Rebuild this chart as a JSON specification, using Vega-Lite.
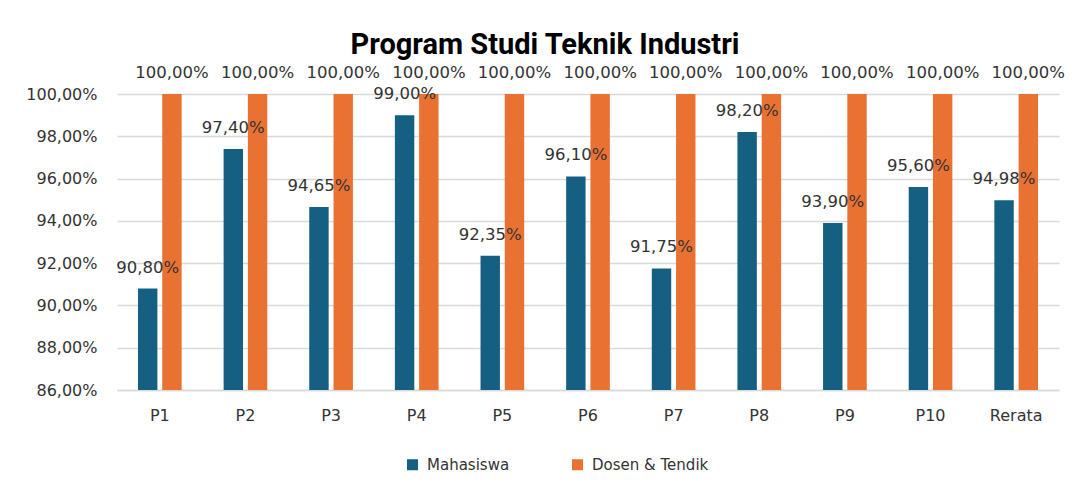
{
  "$schema": "https://vega.github.io/schema/vega-lite/v6.json",
  "width": 942,
  "height": 296,
  "autosize": {"type": "none"},
  "padding": {"left": 117, "top": 94, "right": 18, "bottom": 103},
  "background": "white",
  "config": {
    "locale": {"number": {"decimal": ",", "thousands": ".", "grouping": [3], "currency": ["", ""]}},
    "view": {"stroke": null},
    "font": "DejaVu Sans"
  },
  "title": {
    "text": "Program Studi Teknik Industri",
    "font": "Roboto",
    "fontSize": 29,
    "fontWeight": "bold",
    "color": "#000000",
    "anchor": "middle",
    "dx": -43,
    "offset": 5
  },
  "data": {
    "values": [
      {"kategori": "P1", "seri": "Mahasiswa", "nilai": 0.908},
      {"kategori": "P1", "seri": "Dosen & Tendik", "nilai": 1.0},
      {"kategori": "P2", "seri": "Mahasiswa", "nilai": 0.974},
      {"kategori": "P2", "seri": "Dosen & Tendik", "nilai": 1.0},
      {"kategori": "P3", "seri": "Mahasiswa", "nilai": 0.9465},
      {"kategori": "P3", "seri": "Dosen & Tendik", "nilai": 1.0},
      {"kategori": "P4", "seri": "Mahasiswa", "nilai": 0.99},
      {"kategori": "P4", "seri": "Dosen & Tendik", "nilai": 1.0},
      {"kategori": "P5", "seri": "Mahasiswa", "nilai": 0.9235},
      {"kategori": "P5", "seri": "Dosen & Tendik", "nilai": 1.0},
      {"kategori": "P6", "seri": "Mahasiswa", "nilai": 0.961},
      {"kategori": "P6", "seri": "Dosen & Tendik", "nilai": 1.0},
      {"kategori": "P7", "seri": "Mahasiswa", "nilai": 0.9175},
      {"kategori": "P7", "seri": "Dosen & Tendik", "nilai": 1.0},
      {"kategori": "P8", "seri": "Mahasiswa", "nilai": 0.982},
      {"kategori": "P8", "seri": "Dosen & Tendik", "nilai": 1.0},
      {"kategori": "P9", "seri": "Mahasiswa", "nilai": 0.939},
      {"kategori": "P9", "seri": "Dosen & Tendik", "nilai": 1.0},
      {"kategori": "P10", "seri": "Mahasiswa", "nilai": 0.956},
      {"kategori": "P10", "seri": "Dosen & Tendik", "nilai": 1.0},
      {"kategori": "Rerata", "seri": "Mahasiswa", "nilai": 0.9498},
      {"kategori": "Rerata", "seri": "Dosen & Tendik", "nilai": 1.0}
    ]
  },
  "encoding": {
    "x": {
      "field": "kategori",
      "type": "nominal",
      "sort": ["P1", "P2", "P3", "P4", "P5", "P6", "P7", "P8", "P9", "P10", "Rerata"],
      "scale": {"paddingInner": 0.49, "paddingOuter": 0.245},
      "axis": {
        "title": null,
        "labelAngle": 0,
        "labelFontSize": 16,
        "labelColor": "#333333",
        "labelPadding": 17,
        "ticks": false,
        "domainColor": "#d9d9d9",
        "domainWidth": 1.5
      }
    },
    "xOffset": {
      "field": "seri",
      "type": "nominal",
      "sort": ["Mahasiswa", "Dosen & Tendik"],
      "scale": {"paddingInner": 0.2}
    },
    "y": {
      "field": "nilai",
      "type": "quantitative",
      "scale": {"domain": [0.86, 1.0], "zero": false, "nice": false},
      "axis": {
        "title": null,
        "values": [0.86, 0.88, 0.9, 0.92, 0.94, 0.96, 0.98, 1.0],
        "format": ".2%",
        "labelFontSize": 16,
        "labelColor": "#333333",
        "labelPadding": 20,
        "ticks": false,
        "domain": false,
        "gridColor": "#d9d9d9",
        "gridWidth": 1.5
      }
    },
    "color": {
      "field": "seri",
      "type": "nominal",
      "scale": {"domain": ["Mahasiswa", "Dosen & Tendik"], "range": ["#156082", "#E97132"]},
      "legend": {
        "title": null,
        "orient": "none",
        "direction": "horizontal",
        "legendX": 288,
        "legendY": 363,
        "symbolType": "square",
        "symbolSize": 121,
        "symbolStrokeWidth": 0,
        "labelFontSize": 15,
        "labelColor": "#333333",
        "labelOffset": 7,
        "columnPadding": 60
      }
    }
  },
  "layer": [
    {"mark": {"type": "bar", "clip": true}},
    {
      "mark": {"type": "text", "baseline": "bottom", "dy": -13, "fontSize": 16.5, "color": "#333333"},
      "encoding": {
        "text": {"field": "nilai", "type": "quantitative", "format": ".2%"},
        "color": {"value": "#333333"}
      }
    }
  ]
}
